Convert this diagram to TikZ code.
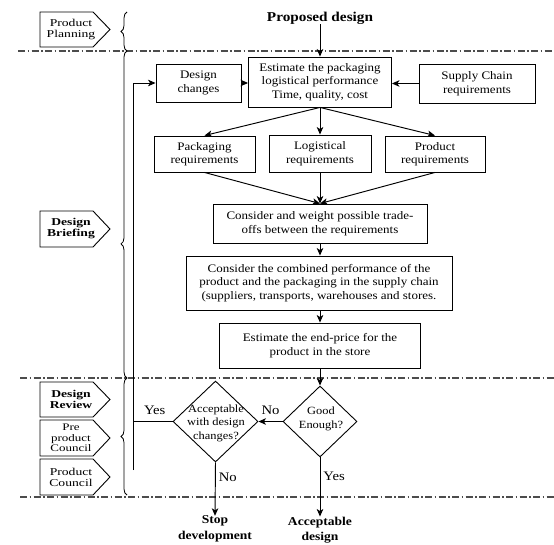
\documentclass[tikz,border=0pt]{standalone}
\usepackage{fontspec}
\setmainfont{Liberation Serif}[FakeStretch=1.13]
\newfontfamily\tagfont{Liberation Serif}[FakeStretch=1.3]
\usetikzlibrary{arrows.meta,shapes.geometric,decorations.pathreplacing}
\tikzset{
  boxtext/.style={font=\fontsize{11.5}{13.5}\selectfont, align=center},
  procbox/.style={draw, line width=0.9pt, boxtext, inner sep=1pt},
  decision/.style={draw, line width=0.9pt, diamond, inner sep=0pt},
  dectext/.style={font=\fontsize{11}{13.5}\selectfont, align=center, inner sep=0pt},
  arr/.style={line width=0.95pt, -{Stealth[length=7.5pt,width=6.5pt,inset=2pt]}},
  plainline/.style={line width=0.95pt},
  phaseline/.style={line width=1.2pt, draw=black!70, dash pattern=on 7pt off 2.5pt on 1.5pt off 2.5pt},
  tagtext/.style={align=center, inner sep=0pt, font=\tagfont\fontsize{10.5}{11}\selectfont},
  tagline/.style={line width=0.9pt},
  bracestyle/.style={line width=0.8pt, decorate},
  answer/.style={font=\fontsize{13}{14}\selectfont, inner sep=0pt},
  endtext/.style={font=\bfseries\fontsize{12}{15.5}\selectfont, align=center, inner sep=0pt}
}
% pentagon tag: #1 name, #2 top y, #3 bottom y, #4 text, #5 extra style
\newcommand\phasetag[5]{%
  \draw[tagline] (40,#2) -- (93,#2) -- (110,{(#2+#3)/2}) -- (93,#3) -- (40,#3) -- cycle;
  \node[tagtext,#5] (#1) at (71,{(#2+#3)/2}) {#4};
}
\begin{document}
\begin{tikzpicture}[x=1pt,y=-1pt]
\useasboundingbox (0,0) rectangle (554,545);

% phase lines
\draw[phaseline] (18,51) -- (554,51);
\draw[phaseline] (20,378) -- (554,378);
\draw[phaseline] (20,497) -- (554,497);

% phase tags
\phasetag{tpp}{12}{47}{Product\\Planning}{}
\phasetag{tdb}{211}{247}{Design\\Briefing}{font=\tagfont\bfseries\fontsize{10.5}{11}\selectfont}
\phasetag{tdr}{382}{417}{Design\\Review}{font=\tagfont\bfseries\fontsize{10.5}{11}\selectfont}
\phasetag{tpc}{420}{456}{Pre\\product\\Council}{font=\tagfont\fontsize{10}{10.5}\selectfont}
\phasetag{tcc}{459}{495}{Product\\Council}{}

% braces
\draw[bracestyle, decoration={brace, amplitude=6pt}] (127,51) -- (127,12);
\draw[bracestyle, decoration={brace, amplitude=6pt, aspect=0.41}] (127,378) -- (127,51);
\draw[bracestyle, decoration={brace, amplitude=6pt}] (127,495) -- (127,378);

% title
\node[font=\bfseries\fontsize{13.5}{15}\selectfont, inner sep=0pt] (pd) at (320,18) {Proposed design};

% boxes
\node[procbox, minimum width=85pt, minimum height=38pt] (dc) at (198.5,83) {Design\\changes};
\node[procbox, minimum width=143pt, minimum height=50pt] (est) at (320,82) {Estimate the packaging\\logistical performance\\Time, quality, cost};
\node[procbox, minimum width=116pt, minimum height=39pt] (sc) at (477,83.5) {Supply Chain\\requirements};
\node[procbox, minimum width=101pt, minimum height=36pt] (pack) at (204.5,154) {Packaging\\requirements};
\node[procbox, minimum width=102pt, minimum height=37pt] (logi) at (320,153.5) {Logistical\\requirements};
\node[procbox, minimum width=100pt, minimum height=36pt] (prod) at (435,154) {Product\\requirements};
\node[procbox, minimum width=214pt, minimum height=39pt] (trade) at (320,223.5) {Consider and weight possible trade-\\offs between the requirements};
\node[procbox, minimum width=266pt, minimum height=54pt] (comb) at (319,283) {Consider the combined performance of the\\product and the packaging in the supply chain\\(suppliers, transports, warehouses and stores.};
\node[procbox, minimum width=201pt, minimum height=45pt] (price) at (320,345.5) {Estimate the end-price for the\\product in the store};

% decisions
\node[decision, minimum width=74pt, minimum height=71pt] (good) at (320,421.5) {};
\node[dectext] (goodt) at (321,419) {Good\\Enough?};
\node[decision, minimum width=85pt, minimum height=81pt] (acc) at (215.5,421.5) {};
\node[dectext] (acct) at (216,423) {Acceptable\\with design\\changes?};

% end texts
\node[endtext] (stop) at (215,529) {Stop\\development};
\node[endtext] (accd) at (320,530) {Acceptable\\design};

% connectors
\draw[arr] (pd.south) -- (est.north);
\draw[arr] (dc.east) -- (dc.east -| est.west);
\draw[arr] (sc.west) -- (sc.west -| est.east);
\draw[arr] (est.south) -- (pack.north);
\draw[arr] (est.south) -- (logi.north);
\draw[arr] (est.south) -- (prod.north);
\draw[arr] (pack.south) -- (trade.north);
\draw[arr] (logi.south) -- (trade.north);
\draw[arr] (prod.south) -- (trade.north);
\draw[arr] (trade.south) -- (comb.north -| trade.south);
\draw[arr] (comb.south -| price.north) -- (price.north);
\draw[arr] (price.south) -- (good.north);
\draw[arr] (good.west) -- node[answer, above=6pt] (lno1) {No} (acc.east);
\draw[arr] (acc.south) -- node[answer, right=3pt, pos=0.28] (lno2) {No} (stop.north);
\draw[arr] (good.south) -- node[answer, right=3pt, pos=0.32] (lyes2) {Yes} (accd.north);

% feedback loop
\coordinate (fb) at (133,470);
\draw[plainline] (acc.west) -- node[answer, above=6pt, pos=0.45] (lyes1) {Yes} (acc.west -| fb);
\draw[arr] (fb) |- (dc.west);
\end{tikzpicture}
\end{document}
